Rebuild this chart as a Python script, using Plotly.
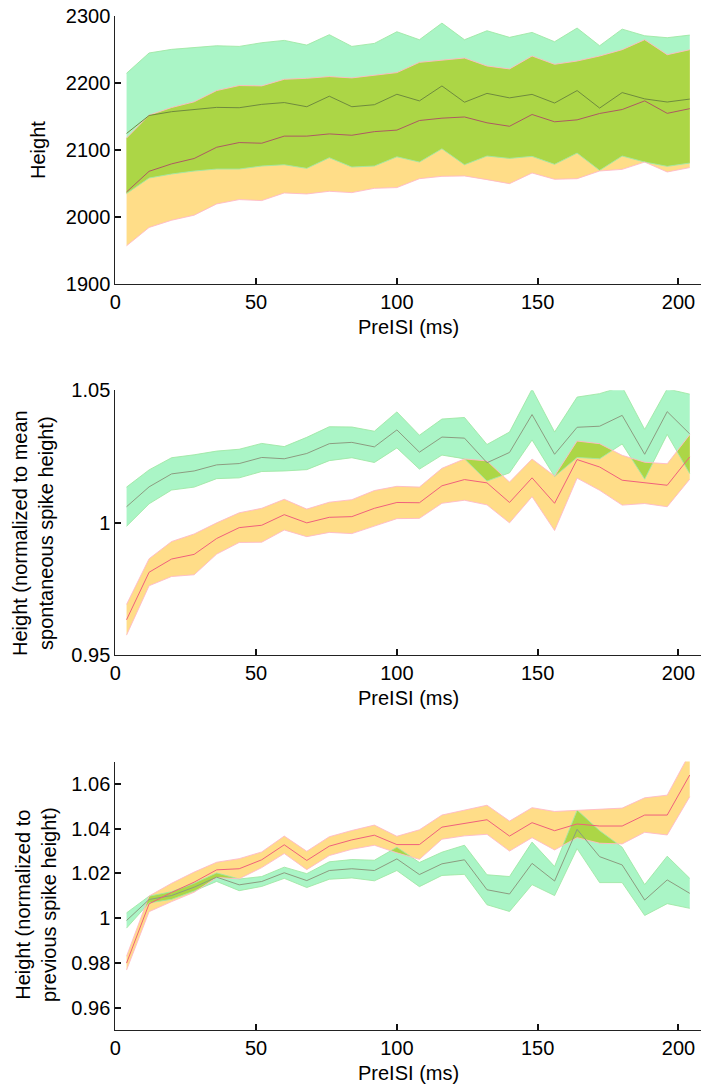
import plotly.graph_objects as go

# ---------------- data ----------------
preisi = [4, 12, 20, 28, 36, 44, 52, 60, 68, 76, 84, 92, 100, 108, 116, 124, 132,
          140, 148, 156, 164, 172, 180, 188, 196, 204]

# Panel 1: absolute height
green_mean_1 = [2124.7, 2151.5, 2157.2, 2160.9, 2163.6, 2163.1, 2168.1, 2170.8, 2164.6, 2180.3,
                2164.6, 2167.6, 2183.2, 2173.3, 2195.6, 2171.3, 2184.5, 2177.8, 2183.0, 2170.1,
                2188.7, 2162.6, 2185.7, 2176.3, 2171.6, 2176.0]
green_sd_1 = [89.8, 93.3, 93.0, 92.3, 92.0, 91.5, 92.0, 92.8, 92.0, 91.8, 90.0, 91.5, 93.3,
              91.3, 93.8, 93.3, 93.5, 90.3, 92.5, 91.5, 93.3, 93.0, 94.7, 94.2, 96.0, 95.5]
orange_mean_1 = [2037.4, 2068.2, 2079.3, 2087.3, 2104.1, 2111.1, 2110.1, 2120.7, 2120.7, 2124.0,
                 2122.0, 2127.4, 2129.7, 2144.0, 2147.5, 2149.3, 2140.6, 2135.4, 2153.0, 2142.1,
                 2145.0, 2154.5, 2160.4, 2173.3, 2154.7, 2161.7]
orange_sd_1 = [80.4, 83.8, 84.1, 84.6, 84.6, 85.1, 85.6, 84.8, 86.3, 85.6, 85.6, 84.6, 85.8,
               86.8, 86.8, 88.0, 84.8, 85.6, 87.3, 85.8, 87.8, 85.8, 89.3, 91.3, 87.5, 88.0]

# Panel 2: normalized to mean spontaneous spike height
green_mean_2 = [1.0060, 1.0135, 1.0184, 1.0195, 1.0218, 1.0223, 1.0246, 1.0241, 1.0261, 1.0298,
                1.0303, 1.0286, 1.0350, 1.0266, 1.0323, 1.0319, 1.0226, 1.0265, 1.0408, 1.0258,
                1.0360, 1.0364, 1.0405, 1.0258, 1.0419, 1.0335]
green_sd_2 = [0.0074, 0.0064, 0.0061, 0.0061, 0.0052, 0.0054, 0.0053, 0.0046, 0.0061, 0.0064,
              0.0058, 0.0059, 0.0068, 0.0064, 0.0068, 0.0078, 0.0069, 0.0077, 0.0096, 0.0084,
              0.0114, 0.0123, 0.0108, 0.0094, 0.0086, 0.0150]
orange_mean_2 = [0.9633, 0.98125, 0.98625, 0.9880, 0.9940, 0.9981, 0.9990, 1.0030, 0.9999, 1.0020,
                 1.00225, 1.0054, 1.0076, 1.0075, 1.0139, 1.01625, 1.0150, 1.0076, 1.0169, 1.0073,
                 1.0238, 1.0210, 1.0160, 1.0150, 1.0141, 1.0248]
orange_sd_2 = [0.0058, 0.0051, 0.0066, 0.0077, 0.0059, 0.0056, 0.0064, 0.0058, 0.0052, 0.0057,
               0.0064, 0.0067, 0.0061, 0.0059, 0.0066, 0.0078, 0.0083, 0.0077, 0.0071, 0.0103,
               0.0070, 0.0088, 0.0094, 0.0078, 0.0081, 0.0084]

# Panel 3: normalized to previous spike height
green_mean_3 = [0.99896, 1.00834, 1.01013, 1.01386, 1.01833, 1.0149, 1.0164, 1.0203, 1.0168, 1.0213,
                1.0221, 1.0213, 1.0265, 1.0195, 1.0243, 1.0261, 1.0127, 1.0108, 1.0245, 1.0166,
                1.0397, 1.0275, 1.0238, 1.0081, 1.0171, 1.0111]
green_sd_3 = [0.0034, 0.0015, 0.0017, 0.0017, 0.0019, 0.0026, 0.0022, 0.0025, 0.0031, 0.0039,
              0.0041, 0.0046, 0.0052, 0.0054, 0.0052, 0.0065, 0.0067, 0.0078, 0.0095, 0.0065,
              0.0086, 0.0116, 0.0079, 0.0069, 0.0106, 0.0067]
orange_mean_3 = [0.9799, 1.0064, 1.0115, 1.0161, 1.0216, 1.0221, 1.0261, 1.0328, 1.0258, 1.0322,
                 1.0350, 1.0371, 1.0329, 1.0329, 1.0407, 1.0425, 1.0440, 1.0367, 1.0427, 1.0391,
                 1.0421, 1.0412, 1.0412, 1.0461, 1.0461, 1.0640]
orange_sd_3 = [0.0031, 0.0035, 0.0041, 0.0045, 0.0034, 0.0045, 0.0035, 0.0039, 0.0041, 0.0042,
               0.0042, 0.0045, 0.0037, 0.0066, 0.0054, 0.0057, 0.0065, 0.0067, 0.0067, 0.0086,
               0.0061, 0.0077, 0.0080, 0.0077, 0.0089, 0.0097]

x_ticks = [0, 50, 100, 150, 200]
y_ticks_1 = [1900, 2000, 2100, 2200, 2300]
y_ticks_2 = [0.95, 1.0, 1.05]
y_ticklabels_2 = ["0.95", "1", "1.05"]
y_ticks_3 = [0.96, 0.98, 1.0, 1.02, 1.04, 1.06]
y_ticklabels_3 = ["0.96", "0.98", "1", "1.02", "1.04", "1.06"]

x_title = "PreISI (ms)"
y_title_1 = "Height"
y_title_2 = "Height (normalized to mean<br>spontaneous spike height)"
y_title_3 = "Height (normalized to<br>previous spike height)"

# ---------------- styling ----------------
W, H = 701, 1090
FONT = "Liberation Sans, Arial, Helvetica, sans-serif"
FS = 20
GREEN_FILL = "#aaf5c6"
ORANGE_FILL = "#ffdd88"
OLIVE_FILL = "#acd646"
GREEN_EDGE = "rgba(160,232,165,0.9)"
ORANGE_EDGE = "rgba(255,185,200,0.9)"


def fx(p):
    return p / W


def fy(p):
    return 1 - p / H


def overlap(xs, l1, u1, l2, u2):
    ox, lo, hi = [], [], []
    for k in range(len(xs) - 1):
        a = [l1[k], u1[k], l2[k], u2[k]]
        b = [l1[k + 1], u1[k + 1], l2[k + 1], u2[k + 1]]
        ts = {0.0, 1.0}
        for i in range(4):
            for j in range(i + 1, 4):
                d0 = a[i] - a[j]
                d1 = b[i] - b[j]
                if d0 * d1 < 0:
                    ts.add(d0 / (d0 - d1))
        for t in sorted(ts):
            if k > 0 and t == 0.0:
                continue
            v = [a[m] + (b[m] - a[m]) * t for m in range(4)]
            ox.append(xs[k] + (xs[k + 1] - xs[k]) * t)
            l = max(v[0], v[2])
            u = max(min(v[1], v[3]), l)
            lo.append(l)
            hi.append(u)
    return ox, lo, hi


panels = [
    dict(gm=green_mean_1, gs=green_sd_1, om=orange_mean_1, osd=orange_sd_1,
         yr=[1900, 2300], tv=y_ticks_1, tt=[str(v) for v in y_ticks_1],
         top=16.0, bot=284.0, title=y_title_1, tx=38, ty=150,
         gline="#6f8a3e", oline="#ad5a62"),
    dict(gm=green_mean_2, gs=green_sd_2, om=orange_mean_2, osd=orange_sd_2,
         yr=[0.95, 1.05], tv=y_ticks_2, tt=y_ticklabels_2,
         top=390.2, bot=655.0, title=y_title_2, tx=33, ty=533,
         gline="#8c9c80", oline="#f0607c"),
    dict(gm=green_mean_3, gs=green_sd_3, om=orange_mean_3, osd=orange_sd_3,
         yr=[0.95, 1.07], tv=y_ticks_3, tt=y_ticklabels_3,
         top=761.6, bot=1030.0, title=y_title_3, tx=36, ty=905,
         gline="#8c9c80", oline="#f0607c"),
]

fig = go.Figure()
annotations = []
layout_axes = {}
X_LEFT = 115.3

for n, p in enumerate(panels, start=1):
    xa = "x" if n == 1 else f"x{n}"
    ya = "y" if n == 1 else f"y{n}"
    gu = [m + s for m, s in zip(p["gm"], p["gs"])]
    gl = [m - s for m, s in zip(p["gm"], p["gs"])]
    ou = [m + s for m, s in zip(p["om"], p["osd"])]
    ol = [m - s for m, s in zip(p["om"], p["osd"])]
    xr = preisi[::-1]

    fig.add_trace(go.Scatter(x=preisi + xr, y=gu + gl[::-1], fill="toself",
                             fillcolor=GREEN_FILL, line=dict(width=0), mode="lines",
                             hoverinfo="skip", xaxis=xa, yaxis=ya))
    fig.add_trace(go.Scatter(x=preisi + xr, y=ou + ol[::-1], fill="toself",
                             fillcolor=ORANGE_FILL, line=dict(width=0), mode="lines",
                             hoverinfo="skip", xaxis=xa, yaxis=ya))
    ox, lo, hi = overlap(preisi, gl, gu, ol, ou)
    fig.add_trace(go.Scatter(x=ox + ox[::-1], y=hi + lo[::-1], fill="toself",
                             fillcolor=OLIVE_FILL, line=dict(width=0), mode="lines",
                             hoverinfo="skip", xaxis=xa, yaxis=ya))
    for yy in (gu, gl):
        fig.add_trace(go.Scatter(x=preisi, y=yy, mode="lines",
                                 line=dict(color=GREEN_EDGE, width=1),
                                 hoverinfo="skip", xaxis=xa, yaxis=ya))
    for yy in (ou, ol):
        fig.add_trace(go.Scatter(x=preisi, y=yy, mode="lines",
                                 line=dict(color=ORANGE_EDGE, width=1),
                                 hoverinfo="skip", xaxis=xa, yaxis=ya))
    fig.add_trace(go.Scatter(x=preisi, y=p["gm"], mode="lines",
                             line=dict(color=p["gline"], width=1),
                             hoverinfo="skip", xaxis=xa, yaxis=ya))
    fig.add_trace(go.Scatter(x=preisi, y=p["om"], mode="lines",
                             line=dict(color=p["oline"], width=1),
                             hoverinfo="skip", xaxis=xa, yaxis=ya))

    axis_common = dict(showline=True, linecolor="#222222", linewidth=1, ticks="inside",
                       ticklen=6, tickwidth=1.5, tickcolor="#111111", showgrid=False,
                       zeroline=False, automargin=False,
                       tickfont=dict(family=FONT, size=FS, color="black"))
    xkey = "xaxis" if n == 1 else f"xaxis{n}"
    ykey = "yaxis" if n == 1 else f"yaxis{n}"
    layout_axes[xkey] = dict(axis_common, range=[0, 208], domain=[fx(X_LEFT), 1.0],
                             anchor=ya, tickvals=x_ticks,
                             ticktext=[str(v) for v in x_ticks])
    layout_axes[ykey] = dict(axis_common, range=p["yr"], domain=[fy(p["bot"]), fy(p["top"])],
                             anchor=xa, tickvals=p["tv"], ticktext=p["tt"])

    annotations.append(dict(text=x_title, x=fx((X_LEFT + W) / 2), y=fy(p["bot"] + 43),
                            xref="paper", yref="paper", showarrow=False,
                            xanchor="center", yanchor="middle",
                            font=dict(family=FONT, size=FS, color="black")))
    annotations.append(dict(text=p["title"], x=fx(p["tx"]), y=fy(p["ty"]),
                            xref="paper", yref="paper", showarrow=False, textangle=-90,
                            xanchor="center", yanchor="middle",
                            font=dict(family=FONT, size=FS, color="black")))

fig.update_layout(
    template="none",
    width=W, height=H,
    margin=dict(l=0, r=0, t=0, b=0),
    paper_bgcolor="white", plot_bgcolor="white",
    showlegend=False,
    font=dict(family=FONT, size=FS, color="black"),
    annotations=annotations,
    **layout_axes,
)

fig.write_html("out.html")
